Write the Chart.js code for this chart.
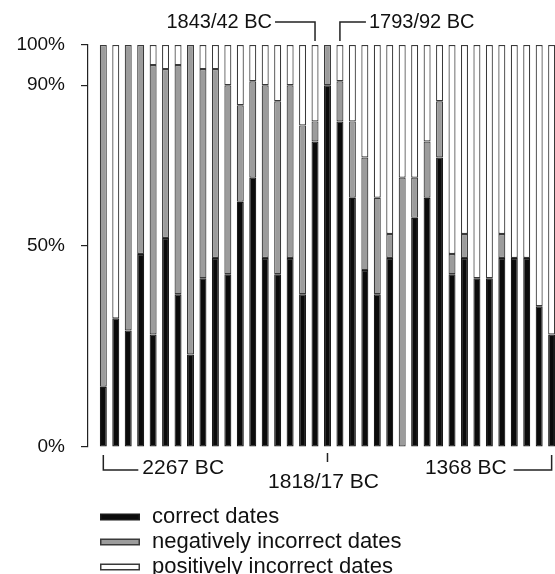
<!DOCTYPE html>
<html>
<head>
<meta charset="utf-8">
<script src="https://cdn.jsdelivr.net/npm/chart.js@4.4.1/dist/chart.umd.min.js"></script>
<style>
  body { margin: 0; background: #fff; }
</style>
</head>
<body>
<canvas id="chart" width="555" height="574"></canvas>
<script>
// one bar every 25 years, 2267 BC (bar 1) to 1368 BC (bar 37), values in percent
var bars     = [1,2,3,4,5,6,7,8,9,10,11,12,13,14,15,16,17,18,19,20,21,22,23,24,25,26,27,28,29,30,31,32,33,34,35,36,37];
var correct  = [15,32,29,48,28,52,38,23,42,47,43,61,67,47,43,47,38,76,90,81,62,44,38,47,0,57,62,72,43,47,42,42,47,47,47,35,28];
var negative = [85,0,71,52,67,42,57,77,52,47,47,24,24,43,43,43,42,5,10,10,19,28,24,6,67,10,14,14,5,6,0,0,6,0,0,0,0];
var positive = [0,68,0,0,5,6,5,0,6,6,10,15,9,10,14,10,20,19,0,9,19,28,38,47,33,33,24,14,52,47,58,58,47,53,53,65,72];

var seriesNames = ['correct dates', 'negatively incorrect dates', 'positively incorrect dates'];
var yTicks = [0, 50, 90, 100];

// labelled bars below / above the plot
var markBars   = [1, 18, 19, 20, 37];
var markLabels = ['2267 BC', '1843/42 BC', '1818/17 BC', '1793/92 BC', '1368 BC'];

var FONT = "'Liberation Sans', Arial, Helvetica, sans-serif";

function pts(vals){
  return bars.map(function(b, i){ return {x: b, y: vals[i]}; });
}

var annot = {
  id: 'annot',
  afterDraw: function(chart){
    var ctx = chart.ctx;
    var xs = chart.scales.x;
    var top = chart.chartArea.top, bottom = chart.chartArea.bottom;
    var px = function(n){ return xs.getPixelForValue(markBars[n]); };
    ctx.save();
    ctx.strokeStyle = '#222';
    ctx.lineWidth = 1.5;
    ctx.fillStyle = '#111';
    ctx.textBaseline = 'middle';

    // top: 1843/42 BC --+   +-- 1793/92 BC
    var lineY = 22;
    ctx.font = '20px ' + FONT;
    var x1 = px(1);
    ctx.beginPath();
    ctx.moveTo(x1 - 40, lineY); ctx.lineTo(x1, lineY); ctx.lineTo(x1, top - 4);
    ctx.stroke();
    ctx.textAlign = 'right';
    ctx.fillText(markLabels[1], x1 - 43, lineY);

    var x3 = px(3);
    ctx.beginPath();
    ctx.moveTo(x3, top - 4); ctx.lineTo(x3, lineY); ctx.lineTo(x3 + 26, lineY);
    ctx.stroke();
    ctx.textAlign = 'left';
    ctx.fillText(markLabels[3], x3 + 29, lineY);

    // bottom brackets
    ctx.font = '21px ' + FONT;
    var bY = bottom + 23;
    var x0 = px(0);
    ctx.beginPath();
    ctx.moveTo(x0, bottom + 8); ctx.lineTo(x0, bY); ctx.lineTo(x0 + 35, bY);
    ctx.stroke();
    ctx.textAlign = 'left';
    ctx.fillText(markLabels[0], x0 + 39, bY - 2);

    var x4 = px(4);
    ctx.beginPath();
    ctx.moveTo(x4, bottom + 8); ctx.lineTo(x4, bY); ctx.lineTo(x4 - 38, bY);
    ctx.stroke();
    ctx.textAlign = 'right';
    ctx.fillText(markLabels[4], x4 - 45, bY - 2);

    var x2 = px(2);
    ctx.beginPath();
    ctx.moveTo(x2, bottom + 6); ctx.lineTo(x2, bottom + 15);
    ctx.stroke();
    ctx.textAlign = 'center';
    ctx.fillText(markLabels[2], x2 - 4, bottom + 35);

    // legend, one row per series
    ctx.font = '22px ' + FONT;
    ctx.textAlign = 'left';
    ctx.lineWidth = 1;
    chart.data.datasets.forEach(function(ds, i){
      var y = 517 + i * 25;
      ctx.fillStyle = ds.borderColor;
      ctx.fillRect(100, y - 3.5, 40, 7);
      ctx.fillStyle = ds.backgroundColor;
      ctx.fillRect(101.5, y - 2, 37, 4);
      ctx.fillStyle = '#111';
      ctx.fillText(ds.label, 152, y);
    });
    ctx.restore();
  }
};

var common = {
  barThickness: 7,
  borderWidth: 1.2,
  borderSkipped: false,
  inflateAmount: 0,
  clip: false
};

new Chart(document.getElementById('chart').getContext('2d'), {
  type: 'bar',
  data: {
    datasets: [
      Object.assign({label: seriesNames[0], data: pts(correct),  backgroundColor: '#0b0b0b', borderColor: '#1a1a1a'}, common),
      Object.assign({label: seriesNames[1], data: pts(negative), backgroundColor: '#9c9c9c', borderColor: '#3a3a3a'}, common),
      Object.assign({label: seriesNames[2], data: pts(positive), backgroundColor: '#ffffff', borderColor: '#3a3a3a'}, common)
    ]
  },
  options: {
    responsive: false,
    animation: false,
    layout: { padding: { top: 45, bottom: 127, left: 0, right: 0 } },
    plugins: { legend: { display: false }, tooltip: { enabled: false } },
    scales: {
      x: {
        type: 'linear',
        stacked: true,
        display: false,
        offset: false,
        grid: { offset: false },
        min: -0.23,
        max: 37.27
      },
      y: {
        stacked: true,
        min: 0,
        max: 100,
        afterBuildTicks: function(scale){
          scale.ticks = yTicks.map(function(v){ return {value: v}; });
        },
        afterFit: function(scale){ scale.width = 88; },
        ticks: {
          padding: 16,
          color: '#111',
          font: { family: FONT, size: 19 },
          callback: function(v){ return v + '%'; }
        },
        grid: { drawOnChartArea: false, drawTicks: true, tickLength: 7, color: '#222', lineWidth: 1.2 },
        border: { display: true, color: '#222', width: 1.2 }
      }
    }
  },
  plugins: [annot]
});
</script>
</body>
</html>
